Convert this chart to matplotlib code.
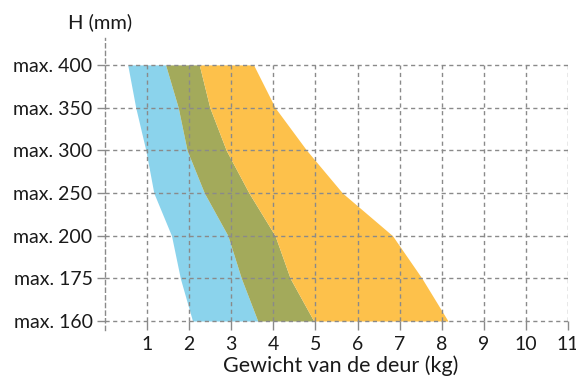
import matplotlib
matplotlib.use('Agg')
import matplotlib.pyplot as plt
import numpy as np

plt.rcParams['font.family'] = ['Lato', 'DejaVu Sans']

# door height classes (bottom to top) and weight band boundaries in kg
heights = ['max. 160', 'max. 175', 'max. 200', 'max. 250', 'max. 300', 'max. 350', 'max. 400']
blue_left = [2.08, 1.79, 1.58, 1.16, 0.97, 0.73, 0.54]
blue_olive = [3.63, 3.24, 2.92, 2.36, 1.95, 1.74, 1.44]
olive_orange = [4.96, 4.40, 4.04, 3.42, 2.88, 2.49, 2.24]
orange_right = [8.15, 7.53, 6.83, 5.64, 4.79, 4.04, 3.53]
x_ticks = list(range(1, 12))

BLUE = '#8BD3EC'
OLIVE = '#A3AA5B'
ORANGE = '#FDC14B'
GRID = '#8a8a8a'
TEXT = '#1a1a1a'

W, H = 576, 378
fig = plt.figure(figsize=(W / 100, H / 100), dpi=100)
ax = fig.add_axes([105 / W, 1 - 330 / H, (568 - 105) / W, (330 - 38) / H])

y = np.arange(len(heights))
ax.fill_betweenx(y, blue_left, blue_olive, color=BLUE, lw=0, zorder=1)
ax.fill_betweenx(y, blue_olive, olive_orange, color=OLIVE, lw=0, zorder=1)
ax.fill_betweenx(y, olive_orange, orange_right, color=ORANGE, lw=0, zorder=1)

dash = (0, (3, 2.5))
ax.hlines(y, 0, 11, colors=GRID, linestyles=dash, lw=1, zorder=2)
ax.vlines(x_ticks, 0, len(heights) - 1, colors=GRID, linestyles=dash, lw=1, zorder=2)

ax.set_xlim(0, 11)
ax.set_ylim(-0.21, 6.63)

for s in ['top', 'right', 'bottom']:
    ax.spines[s].set_visible(False)
ax.spines['left'].set_color(GRID)
ax.spines['left'].set_linestyle(dash)
ax.spines['left'].set_linewidth(1)

ax.set_yticks(y)
ax.set_yticklabels(heights)
ax.set_xticks(x_ticks)
ax.tick_params(axis='y', direction='out', length=6, width=1, color=GRID,
               labelsize=14, labelcolor=TEXT, pad=3)
ax.tick_params(axis='x', direction='in', length=6.5, width=1, color=GRID,
               labelsize=14, labelcolor=TEXT, pad=4)

fig.text(68 / W, 1 - 22 / H, 'H (mm)', fontsize=14.5, color=TEXT, va='center', ha='left')
fig.text(341 / W, 1 - 366 / H, 'Gewicht van de deur (kg)', fontsize=15.5, color=TEXT,
         va='center', ha='center')

fig.savefig('out.png', dpi=100)
